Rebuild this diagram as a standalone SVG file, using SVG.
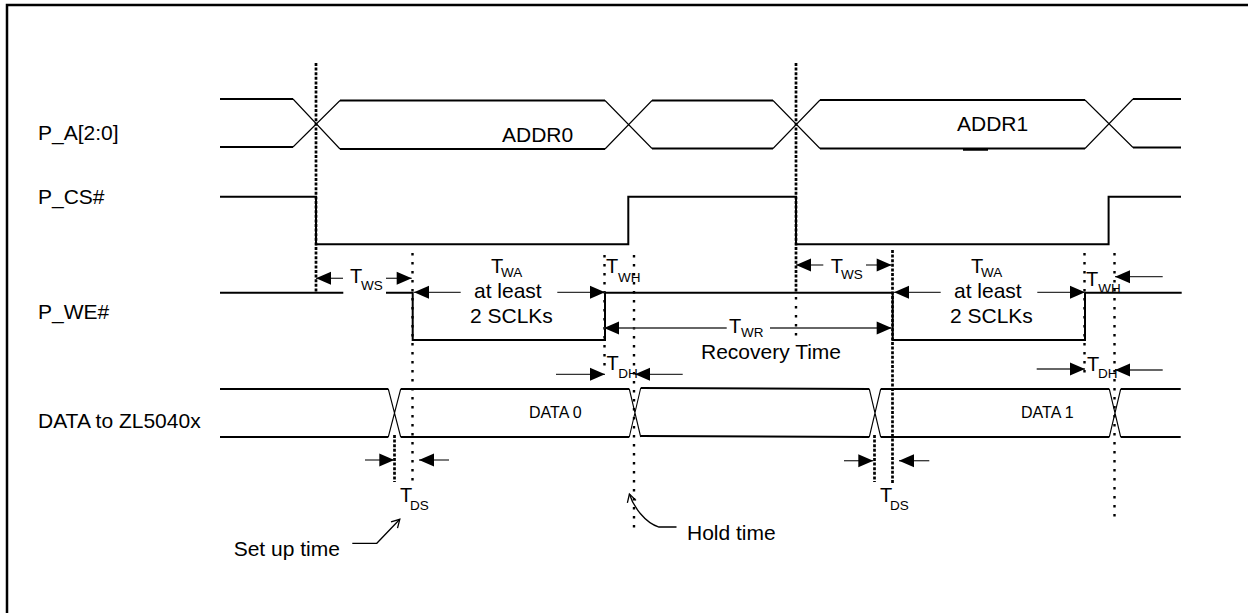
<svg xmlns="http://www.w3.org/2000/svg" width="1248" height="613" viewBox="0 0 1248 613">
<defs>
<style>
text{font-family:"Liberation Sans",Arial,sans-serif;fill:#000}
.lbl{font-size:21px}
.t{font-size:20px}
.sub{font-size:13.5px}
.small{font-size:16px}
.sig{fill:none;stroke:#000;stroke-width:2}
.xing{fill:none;stroke:#000;stroke-width:1.1}
.dense{stroke:#000;stroke-width:2.7;stroke-dasharray:3 1.6}
.dots{stroke:#000;stroke-width:2.4;stroke-dasharray:2.4 6.6}
.arr{stroke:#333;stroke-width:1.3;fill:none;marker-end:url(#ah)}
.call{stroke:#000;stroke-width:1.3;fill:none;marker-end:url(#oh)}
</style>
<marker id="ah" markerUnits="userSpaceOnUse" orient="auto" overflow="visible" markerWidth="1" markerHeight="1" refX="0" refY="0">
<path d="M0,0 L-15,-6.5 L-15,6.5 Z" fill="#000"/>
</marker>
<marker id="oh" markerUnits="userSpaceOnUse" orient="auto" overflow="visible" markerWidth="1" markerHeight="1" refX="0" refY="0">
<path d="M-8,-4.5 L0,0 L-8,4.5" fill="none" stroke="#000" stroke-width="1.3"/>
</marker>
</defs>
<rect width="1248" height="613" fill="#fff"/>
<path d="M7,613 L7,5 L1248,5" fill="none" stroke="#000" stroke-width="2.5"/>

<g id="label-addr"><text class="lbl" x="38" y="140">P_A[2:0]</text></g>
<g id="label-cs"><text class="lbl" x="38" y="204">P_CS#</text></g>
<g id="label-we"><text class="lbl" x="38" y="319">P_WE#</text></g>
<g id="label-data"><text class="lbl" x="38" y="428">DATA to ZL5040x</text></g>

<g id="sig-addr">
<path class="sig" d="M220,99 L293,99 M220,147 L293,147"/>
<path class="xing" d="M293,99 L340,149 M293,147 L340,100.5"/>
<path class="sig" d="M340,100.5 L605,100.5 M340,149 L605,149"/>
<path class="xing" d="M605,100.5 L652,148.5 M605,149 L652,100.5"/>
<path class="sig" d="M652,100.5 L773,100.5 M652,148.5 L773,148.5"/>
<path class="xing" d="M773,100.5 L820,148.5 M773,148.5 L820,100"/>
<path class="sig" d="M820,100 L1085,100 M820,148.5 L1085,148.5"/>
<path class="xing" d="M1085,100 L1133,147.5 M1085,148.5 L1133,99"/>
<path class="sig" d="M1133,99 L1181,99 M1133,147.5 L1181,147.5"/>
<path d="M963,149.5 L988,149.5" stroke="#000" stroke-width="2.5"/>
<text class="lbl" x="502" y="141.5">ADDR0</text>
<text class="lbl" x="957" y="131">ADDR1</text>
</g>

<g id="sig-cs">
<path class="sig" d="M220,196.7 L316,196.7 L316,244.3 L628.3,244.3 L628.3,196.7 L796,196.7 L796,244.3 L1108.6,244.3 L1108.6,196.7 L1181,196.7"/>
</g>

<g id="sig-we">
<path class="sig" d="M220,292.7 L343.3,292.7 M386,292.7 L412.7,292.7 L412.7,340 L605,340 L605,292.7 L892.7,292.7 L892.7,340 L1085,340 L1085,292.7 L1181.7,292.7"/>
</g>

<g id="sig-data">
<path class="sig" d="M220,389 L388.3,389 M220,437 L388.3,437"/>
<path class="xing" d="M388.3,389 L400.7,437 M388.3,437 L400.7,389"/>
<path class="sig" d="M400.7,389 L629.3,389 M400.7,437 L629.3,437"/>
<path class="xing" d="M629.3,389 L640.7,437 M629.3,437 L640.7,388"/>
<path class="sig" d="M640.7,388 L869.3,389 M640.7,436 L869.3,437"/>
<path class="xing" d="M869.3,389 L880.7,437 M869.3,437 L880.7,389"/>
<path class="sig" d="M880.7,389 L1109.3,389 M880.7,437 L1109.3,437"/>
<path class="xing" d="M1109.3,389 L1120.7,437 M1109.3,437 L1120.7,389"/>
<path class="sig" d="M1120.7,389 L1180.7,389 M1120.7,437 L1180.7,437"/>
<text class="small" x="529" y="418.3">DATA 0</text>
<text class="small" x="1021" y="418.3">DATA 1</text>
</g>

<g id="connectors">
<g id="guides">
<line class="dense" x1="316" y1="63" x2="316" y2="292.7"/>
<line class="dense" x1="796" y1="63" x2="796" y2="292.7"/>
<line class="dots" x1="796" y1="297" x2="796" y2="340"/>
<line class="dense" x1="892.5" y1="250" x2="892.5" y2="483"/>
<line class="dense" x1="394.5" y1="435" x2="394.5" y2="482"/>
<line class="dense" x1="874.5" y1="435" x2="874.5" y2="482"/>
<line class="dots" x1="412.5" y1="253" x2="412.5" y2="481"/>
<line class="dots" x1="604.5" y1="255" x2="604.5" y2="366"/>
<line class="dots" x1="634" y1="255" x2="634" y2="528"/>
<line class="dots" x1="1084.5" y1="253" x2="1084.5" y2="378"/>
<line class="dots" x1="1114.5" y1="253" x2="1114.5" y2="522"/>
</g>
<g id="timing-arrows">
<line class="arr" x1="343" y1="278.3" x2="316" y2="278.3"/>
<line class="arr" x1="386" y1="278.3" x2="411.7" y2="278.3"/>
<line class="arr" x1="460.7" y1="292.3" x2="414" y2="292.3"/>
<line class="arr" x1="557.3" y1="292.3" x2="605" y2="292.3"/>
<line class="arr" x1="726.7" y1="328" x2="604" y2="328"/>
<line class="arr" x1="770" y1="328" x2="891.7" y2="328"/>
<line class="arr" x1="556" y1="374.3" x2="605" y2="374.3"/>
<line class="arr" x1="682.7" y1="374.3" x2="635" y2="374.3"/>
<line class="arr" x1="823.3" y1="265" x2="796" y2="265"/>
<line class="arr" x1="866" y1="265" x2="891.7" y2="265"/>
<line class="arr" x1="940.7" y1="292.3" x2="894" y2="292.3"/>
<line class="arr" x1="1037.3" y1="292.3" x2="1085" y2="292.3"/>
<line class="arr" x1="1162.7" y1="276.7" x2="1115" y2="276.7"/>
<line class="arr" x1="1036.7" y1="369" x2="1085" y2="369"/>
<line class="arr" x1="1162.7" y1="370" x2="1115" y2="370"/>
<line class="arr" x1="365" y1="460" x2="394.3" y2="460"/>
<line class="arr" x1="449" y1="460" x2="419" y2="460"/>
<line class="arr" x1="844" y1="460.7" x2="873.3" y2="460.7"/>
<line class="arr" x1="929.3" y1="460.7" x2="899" y2="460.7"/>
<path class="call" d="M352.3,543.3 L376.8,543.3 L399.8,519.3"/>
<path class="call" d="M676.5,527 L659,527 C645,523 633,506 629.4,494"/>
</g>
</g>

<g id="timing-labels">
<text class="t" x="350" y="283.3">T</text><text class="sub" x="361" y="290">WS</text>
<text class="t" x="491" y="273.3">T</text><text class="sub" x="501" y="277.3">WA</text>
<text class="lbl" x="474" y="298.3">at least</text>
<text class="lbl" x="470" y="323.3">2 SCLKs</text>
<text class="t" x="606" y="273.3">T</text><text class="sub" x="618" y="281.7">WH</text>
<text class="t" x="729" y="332.5">T</text><text class="sub" x="741" y="337">WR</text>
<text class="lbl" x="701" y="359">Recovery Time</text>
<text class="t" x="606.5" y="370">T</text><text class="sub" x="618.3" y="378.3">DH</text>
<text class="t" x="830.7" y="273.3">T</text><text class="sub" x="841" y="279.3">WS</text>
<text class="t" x="971" y="273.3">T</text><text class="sub" x="981" y="277.3">WA</text>
<text class="lbl" x="954" y="298.3">at least</text>
<text class="lbl" x="950" y="323.3">2 SCLKs</text>
<text class="t" x="1086" y="286">T</text><text class="sub" x="1098.3" y="293.3">WH</text>
<text class="t" x="1087" y="370.7">T</text><text class="sub" x="1098" y="378.3">DH</text>
<text class="t" x="400" y="501.7">T</text><text class="sub" x="410" y="510">DS</text>
<text class="t" x="880" y="501.7">T</text><text class="sub" x="890" y="510">DS</text>
<text class="lbl" x="233.7" y="556">Set up time</text>
<text class="lbl" x="687" y="540">Hold time</text>
</g>
</svg>
